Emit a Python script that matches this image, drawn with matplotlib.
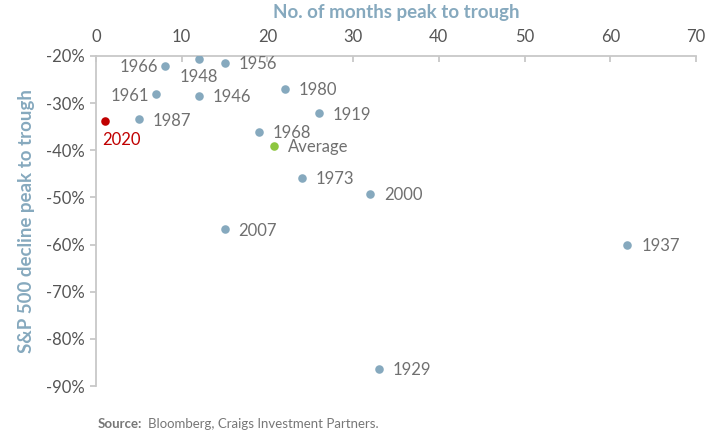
import matplotlib.pyplot as plt
from matplotlib.ticker import FuncFormatter

plt.rcParams['font.family'] = ['Lato', 'DejaVu Sans']

# peak-to-trough episodes: months, decline (%)
years = ['1966', '1948', '1956', '1961', '1946', '1980', '1919', '1987', '1968',
         '1973', '2007', '2000', '1937', '1929']
months = [8, 12, 15, 7, 12, 22, 26, 5, 19, 24, 15, 32, 62, 33]
decline = [-22.1, -20.6, -21.5, -28.1, -28.5, -27.0, -32.2, -33.4, -36.1,
           -45.9, -56.8, -49.2, -60.1, -86.3]

covid_months, covid_decline = 1, -33.7
avg_months, avg_decline = 20.8, -39.0

blue = '#86a9be'
grey_txt = '#707070'
spine_c = '#c8c8c8'

fig = plt.figure(figsize=(7.2, 4.46), dpi=100)
ax = fig.add_axes([0.1333, 0.1345, 0.8334, 0.74])

ax.scatter(months, decline, s=38, color=blue, zorder=3, linewidths=0)
ax.scatter([covid_months], [covid_decline], s=38, color='#c00000', zorder=3, linewidths=0)
ax.scatter([avg_months], [avg_decline], s=38, color='#8dc63f', zorder=3, linewidths=0)

# label offsets in points
left_labels = {'1966', '1961'}
below_labels = {'1948'}
for yr, m, d in zip(years, months, decline):
    if yr in left_labels:
        ax.annotate(yr, (m, d), xytext=(-5, -1), textcoords='offset points',
                    ha='right', va='center', fontsize=12, color=grey_txt)
    elif yr in below_labels:
        ax.annotate(yr, (m, d), xytext=(0, -7), textcoords='offset points',
                    ha='center', va='top', fontsize=12, color=grey_txt)
    else:
        ax.annotate(yr, (m, d), xytext=(10, -1), textcoords='offset points',
                    ha='left', va='center', fontsize=12, color=grey_txt)
ax.annotate('2020', (covid_months, covid_decline), xytext=(-2, -8),
            textcoords='offset points', ha='left', va='top', fontsize=12,
            color='#c00000')
ax.annotate('Average', (avg_months, avg_decline), xytext=(10, -1),
            textcoords='offset points', ha='left', va='center', fontsize=12,
            color=grey_txt)

ax.set_xlim(0, 70)
ax.set_ylim(-90, -20)
ax.set_xticks(range(0, 71, 10))
ax.set_yticks(range(-90, -19, 10))
ax.yaxis.set_major_formatter(FuncFormatter(lambda v, p: f'{v:.0f}%'))

ax.xaxis.tick_top()
ax.xaxis.set_label_position('top')
for s in ['right', 'bottom']:
    ax.spines[s].set_visible(False)
for s in ['top', 'left']:
    ax.spines[s].set_color(spine_c)
    ax.spines[s].set_linewidth(1.3)
ax.tick_params(axis='x', direction='in', length=4, color=spine_c, width=1.3,
               labelsize=12, labelcolor='#555555', pad=8)
ax.tick_params(axis='y', direction='out', length=4, color=spine_c, width=1.3,
               labelsize=12, labelcolor='#555555', pad=4)

ax.set_xlabel('No. of months peak to trough', fontsize=13.5, color=blue,
              fontweight='bold', labelpad=8)
ax.set_ylabel('S&P 500 decline peak to trough', fontsize=13.5, color=blue,
              fontweight='bold', labelpad=8)

fig.text(0.136, 0.04, 'Source:', fontsize=9.5, color='#777777', fontweight='bold')
fig.text(0.205, 0.04, 'Bloomberg, Craigs Investment Partners.', fontsize=9.5,
         color='#777777')

fig.savefig('out.png', dpi=100)
